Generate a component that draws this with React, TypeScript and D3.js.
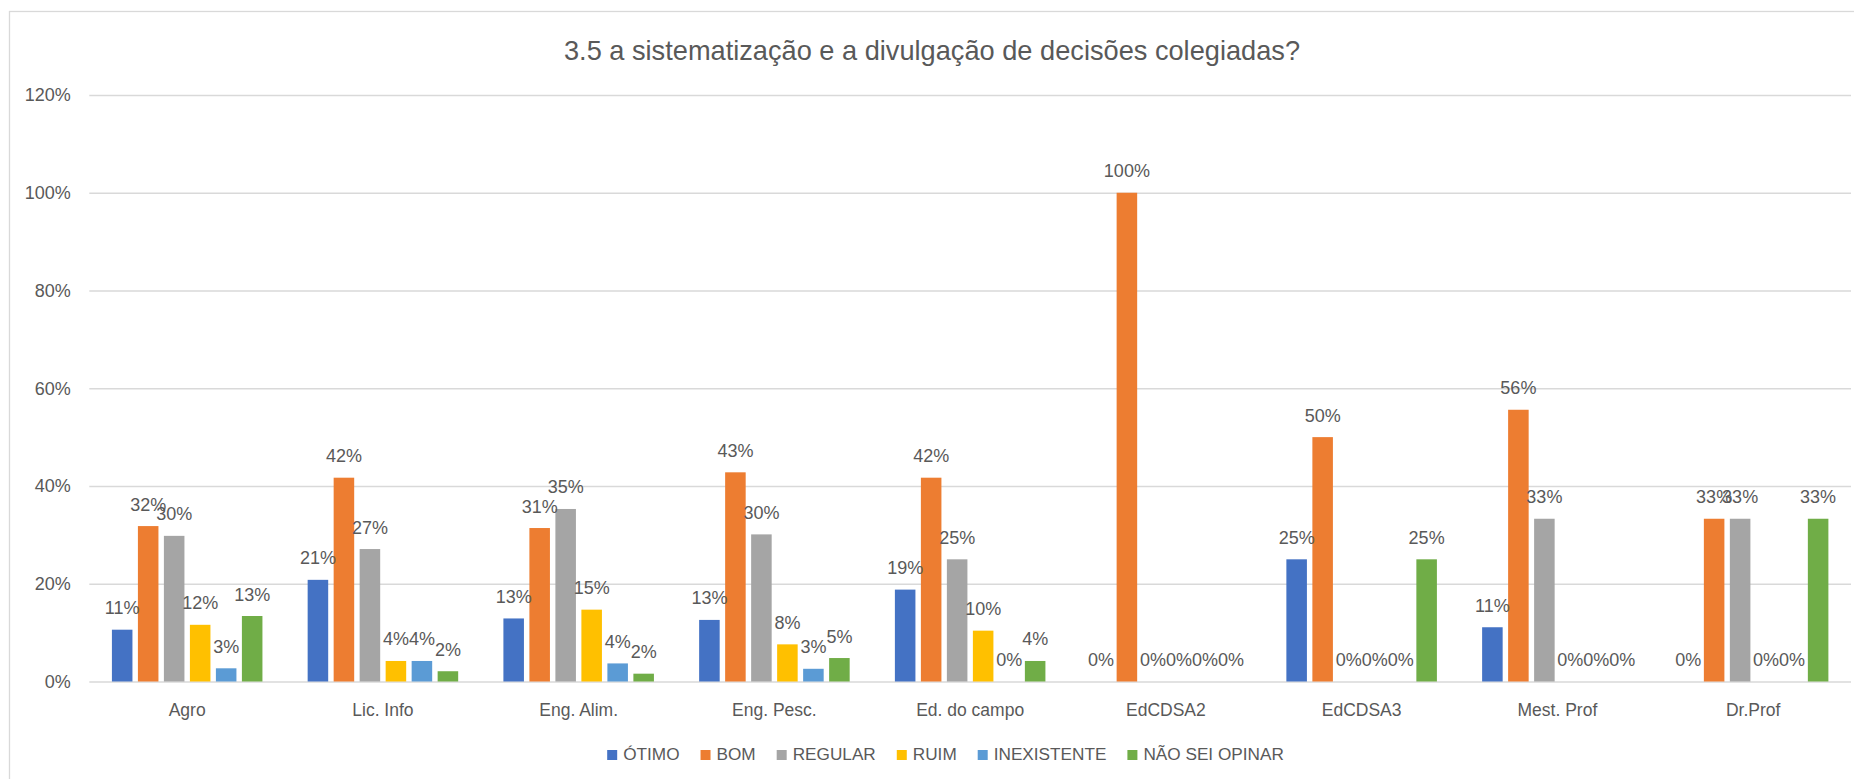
import * as d3 from "d3";
import React, { useEffect, useRef } from "react";

const categories = [
  "Agro",
  "Lic. Info",
  "Eng. Alim.",
  "Eng. Pesc.",
  "Ed. do campo",
  "EdCDSA2",
  "EdCDSA3",
  "Mest. Prof",
  "Dr.Prof",
];
const seriesNames = ["ÓTIMO", "BOM", "REGULAR", "RUIM", "INEXISTENTE", "NÃO SEI OPINAR"];
const otimo = [0.106, 0.208, 0.129, 0.126, 0.188, 0, 0.25, 0.111, 0];
const bom = [0.318, 0.417, 0.314, 0.428, 0.417, 1, 0.5, 0.556, 0.333];
const regular = [0.298, 0.271, 0.353, 0.301, 0.25, 0, 0, 0.333, 0.333];
const ruim = [0.116, 0.042, 0.147, 0.076, 0.104, 0, 0, 0, 0];
const inexistente = [0.027, 0.042, 0.037, 0.026, 0, 0, 0, 0, 0];
const naoSei = [0.134, 0.021, 0.016, 0.048, 0.042, 0, 0.25, 0, 0.333];
const yTicks = [0, 0.2, 0.4, 0.6, 0.8, 1, 1.2];
const colors = ["#4472C4", "#ED7D31", "#A5A5A5", "#FFC000", "#5B9BD5", "#70AD47"];
const title = "3.5 a sistematização e a divulgação de decisões colegiadas?";

const W = 1854;
const H = 779;
const FONT = "'Liberation Sans', Arial, sans-serif";
const TEXT = "#595959";

interface ICell {
  category: string;
  series: string;
  value: number;
}

const App: React.FC = () => {
  const svgRef = useRef<SVGSVGElement>(null);

  useEffect(() => {
    const svg = d3.select(svgRef.current);
    svg.selectAll("*").remove();

    const values = [otimo, bom, regular, ruim, inexistente, naoSei];
    const cells: ICell[] = [];
    categories.forEach((c, i) => {
      seriesNames.forEach((s, j) => {
        cells.push({ category: c, series: s, value: values[j][i] });
      });
    });

    const left = 89.3;
    const right = 1851;
    const x0 = d3
      .scaleBand()
      .domain(categories)
      .range([left, right])
      .paddingInner(0.231)
      .paddingOuter(0.1155);
    const x1 = d3
      .scaleBand()
      .domain(seriesNames)
      .range([0, x0.bandwidth()])
      .paddingInner(0.21);
    const y = d3.scaleLinear().domain([0, 1.2]).range([681.5, 95]);
    const color = d3.scaleOrdinal<string, string>().domain(seriesNames).range(colors);
    const pct = d3.format(".0%");

    // chart border (right/bottom edges fall outside the picture)
    svg
      .append("rect")
      .attr("x", 9.5)
      .attr("y", 11.5)
      .attr("width", W + 20)
      .attr("height", H + 20)
      .attr("fill", "#fff")
      .attr("stroke", "#d9d9d9")
      .attr("stroke-width", 1.3);

    svg
      .append("text")
      .attr("x", 932)
      .attr("y", 60)
      .attr("text-anchor", "middle")
      .style("font-family", FONT)
      .style("font-size", "27.2px")
      .style("fill", TEXT)
      .text(title);

    const yAxis = svg
      .append("g")
      .attr("transform", `translate(${left},0)`)
      .call(
        d3
          .axisLeft(y)
          .tickValues(yTicks)
          .tickSize(-(right - left))
          .tickPadding(18.6)
          .tickFormat((d) => pct(d as number))
      );
    yAxis.select(".domain").remove();
    yAxis.selectAll("line").attr("stroke", "#d9d9d9").attr("stroke-width", 1.3);
    yAxis
      .selectAll("text")
      .style("font-family", FONT)
      .style("font-size", "18px")
      .style("fill", TEXT);

    const bars = svg.append("g");
    bars
      .selectAll("rect")
      .data(cells)
      .join("rect")
      .attr("x", (d) => (x0(d.category) ?? 0) + (x1(d.series) ?? 0))
      .attr("y", (d) => y(d.value))
      .attr("width", x1.bandwidth())
      .attr("height", (d) => y(0) - y(d.value))
      .attr("fill", (d) => color(d.series));

    bars
      .selectAll("text")
      .data(cells)
      .join("text")
      .attr("x", (d) => (x0(d.category) ?? 0) + (x1(d.series) ?? 0) + x1.bandwidth() / 2)
      .attr("y", (d) => y(d.value) - 15.5)
      .attr("text-anchor", "middle")
      .style("font-family", FONT)
      .style("font-size", "18px")
      .style("fill", TEXT)
      .text((d) => pct(d.value));

    svg
      .append("g")
      .selectAll("text")
      .data(categories)
      .join("text")
      .attr("x", (d) => (x0(d) ?? 0) + x0.bandwidth() / 2)
      .attr("y", 716)
      .attr("text-anchor", "middle")
      .style("font-family", FONT)
      .style("font-size", "17.5px")
      .style("fill", TEXT)
      .text((d) => d);

    // legend, laid out from measured text widths
    const gap = 21;
    const legend = svg.append("g");
    const items = legend.selectAll("g").data(seriesNames).join("g");
    items
      .append("rect")
      .attr("width", 10)
      .attr("height", 10)
      .attr("y", 750)
      .attr("fill", (d) => color(d));
    items
      .append("text")
      .attr("x", 16)
      .attr("y", 760)
      .style("font-family", FONT)
      .style("font-size", "17.2px")
      .style("fill", TEXT)
      .text((d) => d);

    let offset = 0;
    const offsets: number[] = [];
    items.each(function () {
      offsets.push(offset);
      const t = d3.select(this).select("text").node() as SVGTextElement;
      offset += 16 + t.getComputedTextLength() + gap;
    });
    const total = offset - gap;
    const start = 945.5 - total / 2;
    items.attr("transform", (_, i) => `translate(${start + offsets[i]},0)`);
  }, []);

  return (
    <svg
      ref={svgRef}
      width={W}
      height={H}
      style={{ position: "absolute", left: 0, top: 0, background: "#fff" }}
    />
  );
};

export default App;
